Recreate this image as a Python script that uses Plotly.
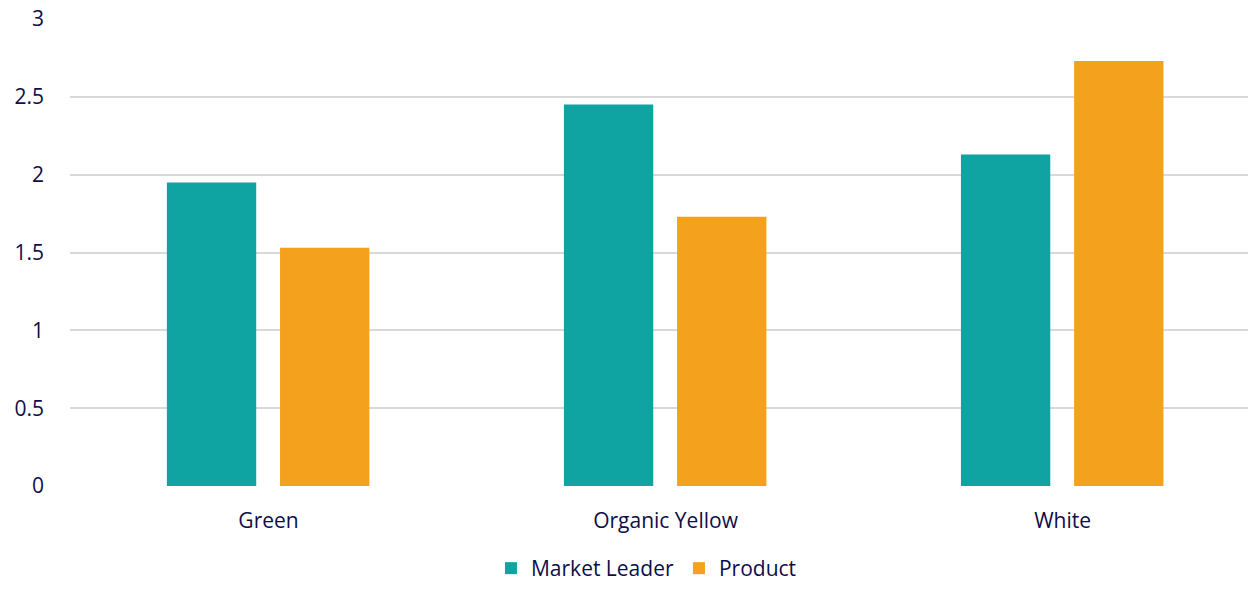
import plotly.graph_objects as go

categories = ["Green", "Organic Yellow", "White"]
market_leader = [1.95, 2.45, 2.13]
product = [1.53, 1.73, 2.73]
y_ticks = [0, 0.5, 1, 1.5, 2, 2.5, 3]
y_tick_labels = ["0", "0.5", "1", "1.5", "2", "2.5", "3"]

TEXT = "#0e0e4a"
FONT = "Open Sans"
FS = 21

fig = go.Figure()
fig.add_trace(go.Bar(x=categories, y=market_leader, name="Market Leader",
                     marker=dict(color="#0FA3A1", line=dict(width=0)),
                     width=0.225, offset=-0.256))
fig.add_trace(go.Bar(x=categories, y=product, name="Product",
                     marker=dict(color="#F4A11E", line=dict(width=0)),
                     width=0.225, offset=0.029))

fig.update_layout(
    width=1248, height=589,
    margin=dict(l=70, r=0, t=19, b=103, autoexpand=False),
    plot_bgcolor="white", paper_bgcolor="white",
    font=dict(family=FONT, size=FS, color=TEXT),
    barmode="group",
    showlegend=True,
    legend=dict(orientation="h", xanchor="center", x=0.518, xref="container",
                yanchor="bottom", y=-0.01, yref="container",
                font=dict(size=FS, color=TEXT), itemwidth=30,
                traceorder="normal"),
    xaxis=dict(range=[-0.5, 2.467], showgrid=False, zeroline=False,
               showline=False, ticks="", ticklabelstandoff=20,
               automargin=False,
               tickfont=dict(size=FS, color=TEXT)),
    yaxis=dict(range=[0, 3], tickvals=y_ticks, ticktext=y_tick_labels,
               showgrid=True, gridcolor="#d9d9d9", gridwidth=2,
               zeroline=False, showline=False, ticks="", automargin=False,
               ticklabelstandoff=25, tickfont=dict(size=FS, color=TEXT)),
)

fig.write_html("out.html")
